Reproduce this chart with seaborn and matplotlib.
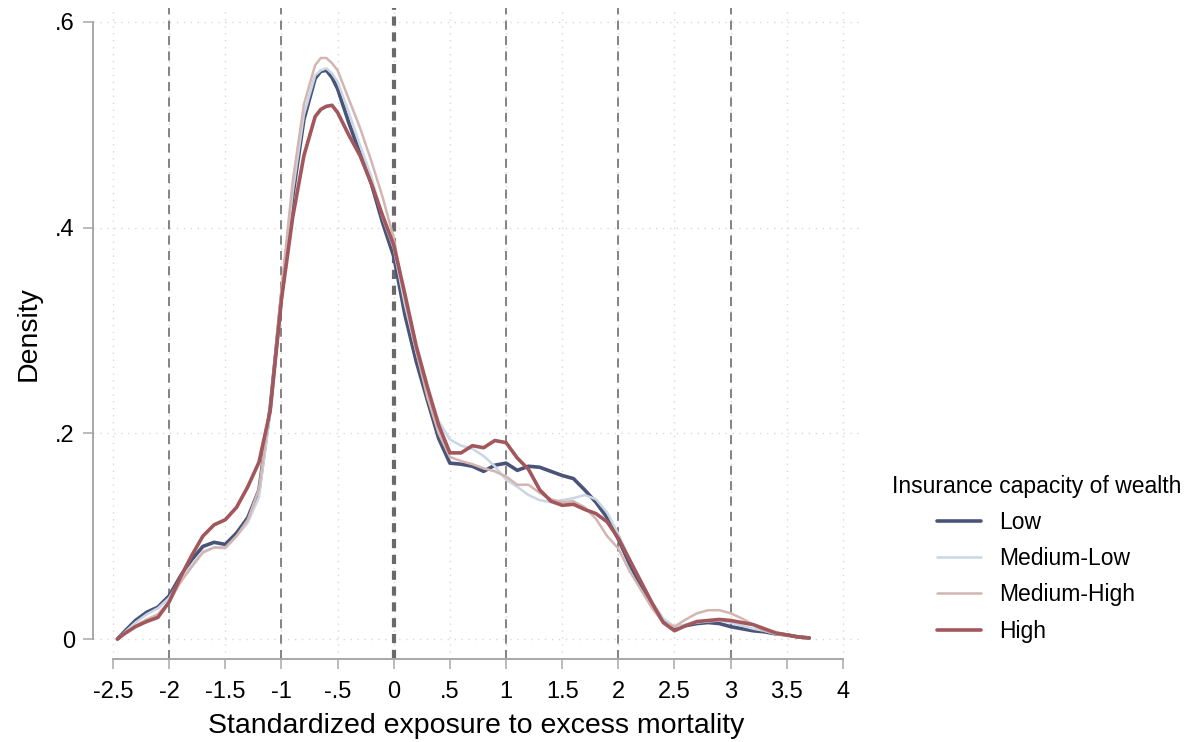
import numpy as np
import pandas as pd
import matplotlib
matplotlib.use("Agg")
import matplotlib.pyplot as plt
import seaborn as sns

# density curves
x_grid = [-2.46, -2.4, -2.3, -2.2, -2.1, -2.0, -1.9, -1.8, -1.7, -1.6, -1.5, -1.4, -1.3,
          -1.2, -1.1, -1.0, -0.9, -0.8, -0.7, -0.65, -0.6, -0.55, -0.5, -0.4, -0.3, -0.2,
          -0.1, 0.0, 0.1, 0.2, 0.3, 0.4, 0.5, 0.6, 0.7, 0.8, 0.9, 1.0, 1.1, 1.2, 1.3, 1.4,
          1.5, 1.6, 1.7, 1.8, 1.9, 2.0, 2.1, 2.2, 2.3, 2.4, 2.5, 2.6, 2.7, 2.8, 2.9, 3.0,
          3.1, 3.2, 3.3, 3.4, 3.5, 3.6, 3.7]

low = [0.0, 0.007, 0.018, 0.026, 0.031, 0.042, 0.061, 0.077, 0.090, 0.094, 0.092, 0.103, 0.118,
       0.145, 0.225, 0.333, 0.430, 0.505, 0.545, 0.552, 0.553, 0.546, 0.535, 0.502, 0.472, 0.443,
       0.405, 0.372, 0.315, 0.270, 0.232, 0.195, 0.171, 0.170, 0.168, 0.163, 0.169, 0.171, 0.164,
       0.168, 0.167, 0.163, 0.159, 0.156, 0.145, 0.133, 0.118, 0.097, 0.073, 0.052, 0.033, 0.018,
       0.011, 0.013, 0.015, 0.016, 0.015, 0.012, 0.010, 0.008, 0.007, 0.005, 0.004, 0.002, 0.001]

medium_low = [0.0, 0.006, 0.016, 0.024, 0.030, 0.040, 0.058, 0.072, 0.085, 0.089, 0.088, 0.100, 0.113,
              0.138, 0.220, 0.335, 0.435, 0.510, 0.548, 0.553, 0.555, 0.550, 0.542, 0.512, 0.480, 0.450,
              0.410, 0.380, 0.325, 0.280, 0.240, 0.212, 0.194, 0.188, 0.185, 0.178, 0.168, 0.155, 0.148,
              0.140, 0.135, 0.133, 0.135, 0.137, 0.140, 0.136, 0.123, 0.102, 0.078, 0.056, 0.036, 0.020,
              0.012, 0.014, 0.016, 0.017, 0.018, 0.016, 0.013, 0.010, 0.008, 0.005, 0.004, 0.002, 0.001]

medium_high = [0.0, 0.005, 0.013, 0.019, 0.024, 0.036, 0.055, 0.070, 0.084, 0.089, 0.089, 0.100, 0.116,
               0.146, 0.225, 0.340, 0.445, 0.520, 0.558, 0.565, 0.565, 0.560, 0.553, 0.525, 0.497, 0.465,
               0.430, 0.390, 0.330, 0.280, 0.235, 0.200, 0.177, 0.173, 0.170, 0.166, 0.163, 0.158, 0.150,
               0.150, 0.142, 0.136, 0.133, 0.134, 0.128, 0.117, 0.100, 0.088, 0.066, 0.048, 0.030, 0.016,
               0.012, 0.019, 0.025, 0.028, 0.028, 0.025, 0.020, 0.014, 0.008, 0.005, 0.004, 0.002, 0.001]

high = [0.0, 0.005, 0.012, 0.017, 0.021, 0.036, 0.060, 0.081, 0.100, 0.111, 0.116, 0.128, 0.148,
        0.172, 0.222, 0.330, 0.410, 0.470, 0.508, 0.515, 0.518, 0.519, 0.512, 0.490, 0.470, 0.443,
        0.412, 0.383, 0.335, 0.285, 0.245, 0.208, 0.181, 0.181, 0.188, 0.186, 0.193, 0.191, 0.176,
        0.165, 0.145, 0.134, 0.130, 0.131, 0.126, 0.122, 0.114, 0.098, 0.077, 0.056, 0.035, 0.016,
        0.008, 0.013, 0.017, 0.018, 0.019, 0.018, 0.016, 0.014, 0.010, 0.006, 0.004, 0.002, 0.001]

groups = ["Low", "Medium-Low", "Medium-High", "High"]
colors = ["#4a5478", "#c9d6e4", "#d3b5b1", "#a1575b"]
widths = [2.6, 1.8, 1.8, 2.6]

x_ticks = [-2.5, -2, -1.5, -1, -0.5, 0, 0.5, 1, 1.5, 2, 2.5, 3, 3.5, 4]
x_ticklabels = ["-2.5", "-2", "-1.5", "-1", "-.5", "0", ".5", "1", "1.5", "2", "2.5", "3", "3.5", "4"]
y_ticks = [0, 0.2, 0.4, 0.6]
y_ticklabels = ["0", ".2", ".4", ".6"]
ref_lines = [-2, -1, 1, 2, 3]

df = pd.concat([
    pd.DataFrame({"x": x_grid, "density": vals, "group": g})
    for g, vals in zip(groups, [low, medium_low, medium_high, high])
])

sns.set_style("white")
plt.rcParams["font.family"] = ["Liberation Sans", "DejaVu Sans"]
plt.rcParams["text.color"] = "black"
plt.rcParams["axes.labelcolor"] = "black"
plt.rcParams["xtick.color"] = "black"
plt.rcParams["ytick.color"] = "black"

fig = plt.figure(figsize=(11.92, 7.42), dpi=100)
ax = fig.add_axes([93 / 1192, 83 / 742, (860 - 93) / 1192, (742 - 83 - 8) / 742])

# light dotted grid at every tick
for xv in x_ticks:
    ax.axvline(xv, color="#d8d8d8", lw=1, ls=(0, (1, 4)), zorder=0)
for yv in y_ticks:
    ax.axhline(yv, color="#d8d8d8", lw=1, ls=(0, (1, 4)), zorder=0)

# reference lines
for xv in ref_lines:
    ax.axvline(xv, color="#7a7a7a", lw=1.3, ls=(0, (5, 3.5)), zorder=1)
ax.axvline(0, color="#6a6a6a", lw=3, ls=(0, (2.2, 1.6)), zorder=1)

for g, c, w in zip(groups, colors, widths):
    sns.lineplot(data=df[df["group"] == g], x="x", y="density", color=c, lw=w,
                 ax=ax, label=g, zorder=3)

ax.set_xlim(-2.5 - 20 / 112.3, -2.5 + (860 - 113) / 112.3)
ax.set_ylim(-20 / 1028.5, 0.6 + 14 / 1028.5)
ax.set_xticks(x_ticks)
ax.set_xticklabels(x_ticklabels)
ax.set_yticks(y_ticks)
ax.set_yticklabels(y_ticklabels)

for s in ["top", "right"]:
    ax.spines[s].set_visible(False)
ax.spines["left"].set_bounds(0, 0.6)
ax.spines["bottom"].set_bounds(-2.5, 4)
for s in ["left", "bottom"]:
    ax.spines[s].set_color("#a8a8a8")
    ax.spines[s].set_linewidth(1.4)

ax.tick_params(axis="both", length=7, width=1.1, color="#a8a8a8", labelsize=17,
               labelcolor="black", direction="out", bottom=True, left=True)
ax.tick_params(axis="x", pad=9)
ax.tick_params(axis="y", pad=6)

ax.set_xlabel("Standardized exposure to excess mortality", fontsize=20.5, labelpad=7)
ax.set_ylabel("Density", fontsize=20.5, labelpad=10)

ax.legend(title="Insurance capacity of wealth", frameon=False, fontsize=16.5, title_fontsize=16.5,
          loc="upper left", bbox_to_anchor=(871 / 1192, (742 - 454) / 742), bbox_transform=fig.transFigure,
          handlelength=1.9, labelspacing=0.58, handletextpad=0.8)

fig.savefig("out.png", dpi=100)
